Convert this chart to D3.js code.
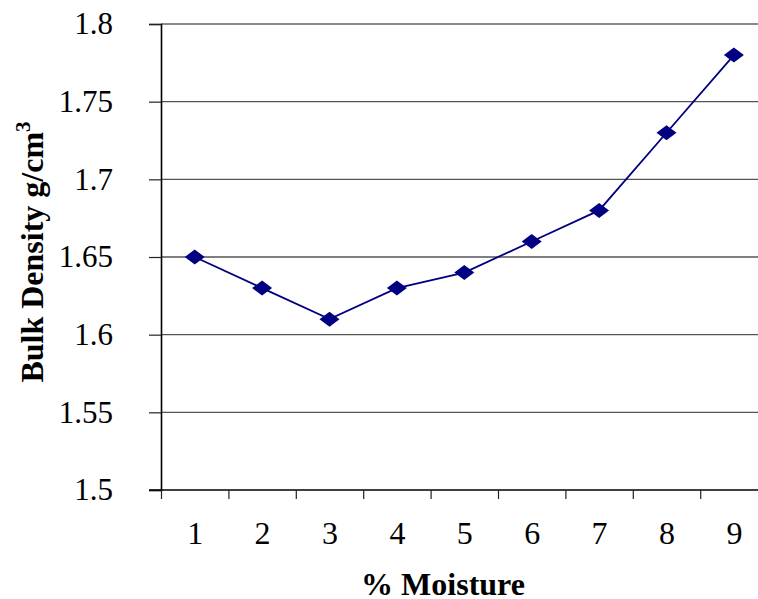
<!DOCTYPE html>
<script src="https://cdn.jsdelivr.net/npm/d3@7"></script>
<html>
    <body style="margin:0; background:#fff;">
        <div id="chart-div"></div>
        <script>
            // data
            const moisture = [1, 2, 3, 4, 5, 6, 7, 8, 9];
            const density = [1.65, 1.63, 1.61, 1.63, 1.64, 1.66, 1.68, 1.73, 1.78];
            const yTicks = [1.5, 1.55, 1.6, 1.65, 1.7, 1.75, 1.8];
            const yTickLabels = ["1.5", "1.55", "1.6", "1.65", "1.7", "1.75", "1.8"];

            const width = 758, height = 599;
            const plotLeft = 161, plotTop = 24, plotBottom = 490;
            const band = 67.4;
            const plotRight = plotLeft + band * moisture.length;

            const svg = d3.select("#chart-div")
                .append("svg")
                .attr("width", width)
                .attr("height", height)
                .style("font-family", "'Liberation Serif', 'Times New Roman', serif");

            const x = d3.scaleLinear()
                .domain([0.5, moisture.length + 0.5])
                .range([plotLeft, plotRight]);

            const y = d3.scaleLinear()
                .domain([1.5, 1.8])
                .range([plotBottom, plotTop]);

            // gridlines
            svg.append("g")
                .selectAll("line")
                .data(yTicks.slice(1, -1))
                .enter()
                .append("line")
                .attr("x1", plotLeft).attr("x2", width)
                .attr("y1", d => y(d)).attr("y2", d => y(d))
                .attr("stroke", "#555")
                .attr("stroke-width", 1.4);

            // top border of plot area
            svg.append("line")
                .attr("x1", plotLeft).attr("x2", width)
                .attr("y1", y(1.8)).attr("y2", y(1.8))
                .attr("stroke", "#8a8a8a")
                .attr("stroke-width", 2);

            // y axis
            const yAxis = svg.append("g")
                .attr("transform", "translate(" + plotLeft + ",0)")
                .call(d3.axisLeft(y)
                    .tickValues(yTicks)
                    .tickFormat((d, i) => yTickLabels[i])
                    .tickSize(12)
                    .tickPadding(36));
            yAxis.select(".domain").attr("stroke", "#000").attr("stroke-width", 1.6);
            yAxis.selectAll(".tick line").attr("stroke", "#222").attr("stroke-width", 1.2);
            yAxis.selectAll("text")
                .attr("font-size", 31)
                .attr("fill", "#000")
                .attr("font-family", "'Liberation Serif', serif");

            // x axis: boundary ticks
            const xTickAxis = svg.append("g")
                .attr("transform", "translate(0," + plotBottom + ")")
                .call(d3.axisBottom(x)
                    .tickValues(moisture.map(d => d - 0.5))
                    .tickFormat("")
                    .tickSize(9)
                    .tickSizeOuter(0));
            xTickAxis.select(".domain")
                .attr("d", "M" + (plotLeft - 12) + ",0H" + width)
                .attr("stroke", "#000").attr("stroke-width", 1.6);
            xTickAxis.selectAll(".tick line").attr("stroke", "#222").attr("stroke-width", 1.2);

            // x axis: category labels
            const xLabelAxis = svg.append("g")
                .attr("transform", "translate(0," + plotBottom + ")")
                .call(d3.axisBottom(x)
                    .tickValues(moisture)
                    .tickFormat(d3.format("d"))
                    .tickSize(0));
            xLabelAxis.select(".domain").remove();
            xLabelAxis.selectAll("text")
                .attr("y", 54)
                .attr("dy", 0)
                .attr("font-size", 32)
                .attr("fill", "#000")
                .attr("font-family", "'Liberation Serif', serif");

            // line
            const line = d3.line()
                .x((d, i) => x(moisture[i]))
                .y(d => y(d));

            svg.append("path")
                .datum(density)
                .attr("d", line)
                .attr("fill", "none")
                .attr("stroke", "#000080")
                .attr("stroke-width", 1.8);

            // diamond markers
            svg.append("g")
                .selectAll("path")
                .data(density)
                .enter()
                .append("path")
                .attr("transform", (d, i) => "translate(" + x(moisture[i]) + "," + y(d) + ")")
                .attr("d", "M-10,0L0,-7.5L10,0L0,7.5Z")
                .attr("fill", "#000080");

            // axis titles
            svg.append("text")
                .attr("x", 443)
                .attr("y", 595)
                .attr("text-anchor", "middle")
                .attr("font-size", 32)
                .attr("font-weight", "bold")
                .text("% Moisture");

            const yTitle = svg.append("text")
                .attr("transform", "translate(43,252) rotate(-90)")
                .attr("text-anchor", "middle")
                .attr("font-size", 32)
                .attr("font-weight", "bold");
            yTitle.append("tspan").text("Bulk Density g/cm");
            yTitle.append("tspan")
                .attr("dy", -13)
                .attr("font-size", 21)
                .text("3");
        </script>
    </body>
</html>
